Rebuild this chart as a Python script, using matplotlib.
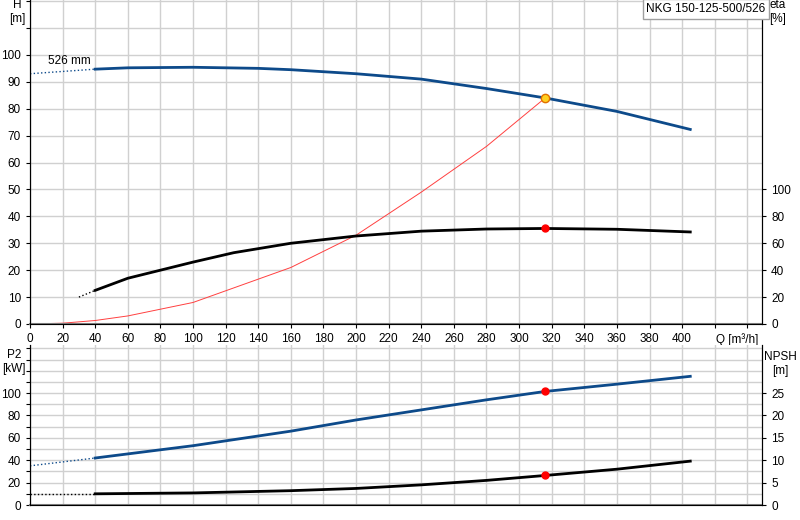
import matplotlib
matplotlib.use("Agg")
import matplotlib.pyplot as plt
import numpy as np

q_h = [40, 60, 100, 140, 160, 200, 240, 280, 316, 360, 405]
h = [94.7, 95.2, 95.4, 95.0, 94.5, 93.0, 91.0, 87.5, 84.0, 79.0, 72.3]
q_h_dash = [0, 40]; h_dash = [93.0, 94.7]
q_eta = [40, 60, 80, 100, 125, 160, 200, 240, 280, 316, 360, 405]
eta = [25, 34, 40, 46, 53, 60, 65.4, 69, 70.6, 71, 70.4, 68.4]
q_eta_dash = [30, 40]; eta_dash = [20, 25]
q_sys = [0, 20, 40, 60, 100, 160, 200, 240, 280, 316]
h_sys = [0, 0.3, 1.3, 3.0, 8.0, 21, 33, 49, 66, 84]
q_p = [40, 100, 160, 200, 240, 280, 316, 360, 405]
p2 = [42, 53, 66, 76, 85, 94, 101.5, 108, 115]
q_p_dash = [0, 40]; p2_dash = [35, 42]
q_n = [40, 100, 160, 200, 240, 280, 316, 360, 405]
npsh = [2.5, 2.7, 3.2, 3.7, 4.5, 5.5, 6.6, 8.0, 9.8]
q_n_dash = [0, 40]; npsh_dash = [2.5, 2.5]
duty_q, duty_h, duty_eta, duty_p2, duty_npsh = 316, 84, 71, 101.5, 6.6

plt.rcParams['font.family'] = ['Liberation Sans', 'DejaVu Sans']
blue = '#0d4a8a'
fig = plt.figure(figsize=(8, 5.2), dpi=100)
W, H = 800, 520
ax = fig.add_axes([30/W, 1-324/H, 732/W, 324/H])
axb = fig.add_axes([30/W, 1-505/H, 732/W, 160/H])
for a in (ax, axb):
    a.set_xlim(0, 449)
    a.set_xticks(np.arange(0, 441, 20))
    a.grid(True, color='#d0d0d0', lw=1)
    a.set_axisbelow(True)
    a.tick_params(labelsize=8.5, length=3)
    a.spines['top'].set_visible(False)
    a.spines['bottom'].set_color('#808080'); a.spines['bottom'].set_linewidth(1.5)
ax.set_ylim(0, 120.4)
ax.set_yticks(np.arange(0, 121, 10))
ax.set_yticklabels([str(v) if v <= 100 else '' for v in range(0, 121, 10)])
ax.set_xticklabels([str(v) if v <= 400 else '' for v in range(0, 441, 20)])
ax.text(434, -3.3, 'Q [m³/h]', fontsize=8.5, ha='center', va='top')
axb.set_xticklabels([])
axb.tick_params(axis='x', length=0)
axb.set_ylim(0, 143)
axb.set_yticks(np.arange(0, 141, 10))
axb.set_yticklabels([str(v) if (v % 20 == 0 and v <= 100) else '' for v in range(0, 141, 10)])

ax.plot(q_h_dash, h_dash, ls=':', color=blue, lw=1)
ax.plot(q_h, h, color=blue, lw=2)
ax.text(11, 96.5, '526 mm', fontsize=8.5)
ax.plot(q_sys, h_sys, color='#ff4040', lw=0.7)
axe = ax.twinx()
axe.set_ylim(0, 240.8)
axe.set_yticks(np.arange(0, 101, 20))
axe.tick_params(labelsize=8.5, length=3)
axe.spines['top'].set_visible(False)
axe.plot(q_eta_dash, eta_dash, ls=':', color='black', lw=1)
axe.plot(q_eta, eta, color='black', lw=2)
axe.plot([duty_q], [duty_eta], 'o', color='red', ms=5)
ax.plot([duty_q], [duty_h], 'o', mfc='#ffd020', mec='#e07000', ms=6, zorder=5)

axb.plot(q_p_dash, p2_dash, ls=':', color=blue, lw=1)
axb.plot(q_p, p2, color=blue, lw=2)
axb.plot([duty_q], [duty_p2], 'o', color='red', ms=5, zorder=5)
axn = axb.twinx()
axn.set_ylim(0, 143/4)
axn.set_yticks([0, 5, 10, 15, 20, 25])
axn.tick_params(labelsize=8.5, length=3)
axn.spines['top'].set_visible(False)
axn.plot(q_n_dash, npsh_dash, ls=':', color='black', lw=1)
axn.plot(q_n, npsh, color='black', lw=2)
axn.plot([duty_q], [duty_npsh], 'o', color='red', ms=5, zorder=5)

fig.text(17/W, 1-12/H, 'H\n[m]', fontsize=8.5, ha='center', va='center')
fig.text(778/W, 1-12/H, 'eta\n[%]', fontsize=8.5, ha='center', va='center')
fig.text(14/W, 1-362/H, 'P2\n[kW]', fontsize=8.5, ha='center', va='center')
fig.text(780/W, 1-364/H, 'NPSH\n[m]', fontsize=8.5, ha='center', va='center')
fig.text(706/W, 1-9/H, 'NKG 150-125-500/526', fontsize=8.5, ha='center', va='center',
         bbox=dict(boxstyle='square,pad=0.3', fc='white', ec='#a0a0a0'))
fig.savefig('out.png', dpi=100)
